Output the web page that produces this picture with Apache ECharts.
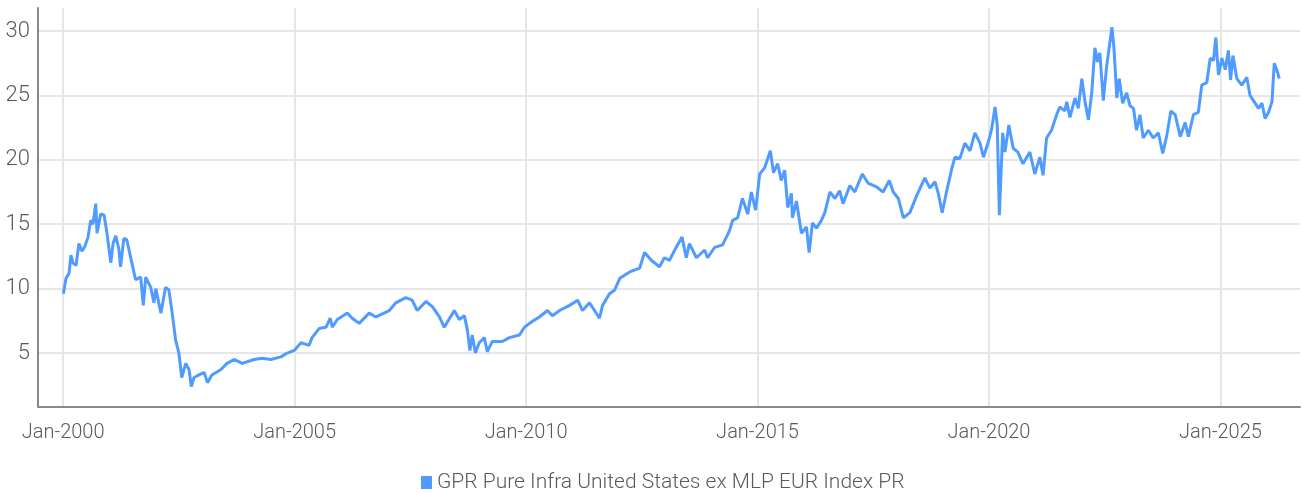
<!DOCTYPE html>
<html><head><meta charset="utf-8">
<script src="https://cdn.jsdelivr.net/npm/echarts@6/dist/echarts.min.js"></script>
<style>html,body{margin:0;padding:0;background:#fff}#c{width:1302px;height:493px}</style>
</head><body><div id="c"></div>
<script>
const seriesName = 'GPR Pure Infra United States ex MLP EUR Index PR';
const dates = [
'2000-01-03','2000-01-24','2000-02-17','2000-03-03','2000-03-19','2000-04-12','2000-05-05','2000-05-29','2000-06-22','2000-07-16',
'2000-08-06','2000-08-24','2000-09-15','2000-09-25','2000-10-24','2000-11-20','2000-12-13','2001-01-12','2001-01-30','2001-02-20',
'2001-03-16','2001-03-30','2001-04-25','2001-05-18','2001-06-27','2001-07-26','2001-09-05','2001-09-25','2001-10-14','2001-11-23',
'2001-12-18','2002-01-02','2002-02-11','2002-03-20','2002-04-15','2002-05-11','2002-06-07','2002-07-03','2002-07-25','2002-08-26',
'2002-09-21','2002-10-09','2002-10-30','2002-12-09','2003-01-18','2003-02-13','2003-03-20','2003-05-28','2003-07-17','2003-09-11',
'2003-11-14','2004-02-17','2004-04-19','2004-06-27','2004-09-15','2004-11-04','2004-12-29','2005-02-21','2005-04-26','2005-05-19',
'2005-07-13','2005-09-05','2005-10-09','2005-10-25','2005-12-04','2006-02-21','2006-03-31','2006-05-25','2006-08-12','2006-10-04',
'2007-01-18','2007-03-10','2007-05-28','2007-07-17','2007-08-26','2007-11-03','2007-12-23','2008-02-17','2008-03-26','2008-06-14',
'2008-07-23','2008-09-01','2008-09-25','2008-10-15','2008-11-03','2008-11-27','2008-12-28','2009-02-06','2009-03-01','2009-04-10',
'2009-06-28','2009-08-22','2009-11-10','2009-12-19','2010-02-11','2010-04-16','2010-06-19','2010-07-28','2010-09-22','2010-12-10',
'2011-02-12','2011-03-22','2011-05-16','2011-06-25','2011-08-03','2011-08-27','2011-10-21','2011-12-01','2012-01-10','2012-03-28',
'2012-06-15','2012-07-24','2012-09-15','2012-11-19','2012-12-28','2013-02-06','2013-03-30','2013-05-16','2013-06-18','2013-07-13',
'2013-09-06','2013-11-10','2013-12-03','2014-01-28','2014-04-01','2014-05-25','2014-06-18','2014-07-28','2014-09-04','2014-10-16',
'2014-11-13','2014-12-17','2015-01-18','2015-02-27','2015-04-12','2015-05-07','2015-06-09','2015-07-07','2015-08-03','2015-08-27',
'2015-09-25','2015-10-03','2015-11-04','2015-12-13','2016-01-22','2016-02-12','2016-03-09','2016-04-10','2016-05-19','2016-06-15',
'2016-07-25','2016-09-03','2016-10-10','2016-11-06','2016-12-30','2017-02-07','2017-04-07','2017-05-22','2017-07-28','2017-09-18',
'2017-11-06','2017-12-07','2018-01-16','2018-02-25','2018-04-17','2018-06-09','2018-08-13','2018-09-22','2018-11-01','2018-11-27',
'2018-12-28','2019-02-02','2019-03-13','2019-04-07','2019-05-16','2019-06-25','2019-08-04','2019-09-12','2019-10-22','2019-11-18',
'2019-12-27','2020-01-22','2020-02-18','2020-03-06','2020-03-23','2020-04-18','2020-05-06','2020-06-06','2020-07-10','2020-08-16',
'2020-09-25','2020-11-19','2020-12-28','2021-02-06','2021-03-03','2021-03-31','2021-05-09','2021-06-18','2021-07-13','2021-08-22',
'2021-09-06','2021-10-01','2021-11-10','2021-12-06','2022-01-03','2022-01-28','2022-02-24','2022-03-22','2022-04-16','2022-05-07',
'2022-05-25','2022-06-21','2022-07-18','2022-08-28','2022-09-13','2022-10-06','2022-10-25','2022-11-21','2022-12-22','2023-01-18',
'2023-02-14','2023-03-10','2023-04-06','2023-05-02','2023-06-11','2023-07-20','2023-08-29','2023-10-03','2023-11-04','2023-12-06',
'2024-01-09','2024-02-18','2024-03-28','2024-04-22','2024-06-01','2024-07-10','2024-08-06','2024-09-15','2024-10-12','2024-11-07',
'2024-11-25','2024-12-16','2025-01-12','2025-02-08','2025-03-04','2025-03-22','2025-04-09','2025-05-10','2025-06-18','2025-07-28',
'2025-08-22','2025-09-18','2025-10-28','2025-11-24','2025-12-19','2026-01-15','2026-02-11','2026-03-01','2026-03-21','2026-04-10'
];
const values = [
9.6,10.8,11.2,12.6,12.0,11.8,13.5,12.9,13.3,14.0,
15.3,15.0,16.6,14.3,15.8,15.7,14.3,12.0,13.5,14.1,
13.1,11.7,13.9,13.8,12.0,10.7,10.9,8.7,10.9,10.1,
8.9,10.0,8.1,10.1,9.9,8.1,6.0,5.0,3.1,4.2,
3.7,2.4,3.1,3.3,3.5,2.7,3.3,3.7,4.2,4.5,
4.2,4.5,4.6,4.5,4.7,5.0,5.2,5.8,5.6,6.2,
6.9,7.0,7.7,7.0,7.6,8.1,7.7,7.3,8.1,7.8,
8.3,8.9,9.3,9.1,8.3,9.0,8.6,7.8,7.0,8.3,
7.6,7.9,6.8,5.2,6.4,5.0,5.8,6.2,5.1,5.9,
5.9,6.2,6.4,7.0,7.4,7.8,8.3,7.9,8.3,8.7,
9.1,8.3,8.9,8.3,7.7,8.7,9.6,9.9,10.8,11.3,
11.6,12.8,12.2,11.7,12.4,12.2,13.2,14.0,12.4,13.5,
12.4,13.0,12.4,13.2,13.4,14.5,15.3,15.5,17.0,15.8,
17.5,16.1,18.9,19.4,20.7,19.0,19.7,18.4,19.2,16.3,
17.4,15.5,16.8,14.3,14.8,12.8,15.1,14.7,15.3,15.9,
17.5,17.0,17.6,16.6,18.0,17.5,18.9,18.2,17.9,17.5,
18.4,17.5,17.0,15.5,15.9,17.2,18.6,17.8,18.3,17.4,
15.9,17.6,19.3,20.2,20.1,21.3,20.7,22.1,21.3,20.2,
21.4,22.4,24.1,22.7,15.7,22.1,20.6,22.7,20.9,20.6,
19.7,20.6,18.9,20.2,18.8,21.7,22.3,23.5,24.1,23.8,
24.5,23.3,24.8,24.0,26.3,24.5,23.1,25.2,28.7,27.6,
28.3,24.6,27.3,30.3,28.7,24.8,26.3,24.4,25.2,24.2,
24.0,22.3,23.5,21.7,22.3,21.7,22.1,20.5,21.9,23.8,
23.5,21.8,22.9,21.8,23.5,23.7,25.8,26.0,27.9,27.7,
29.5,26.6,27.9,27.0,28.5,26.2,28.1,26.3,25.8,26.4,
25.0,24.6,24.0,24.4,23.2,23.7,24.5,27.5,27.0,26.3
];
const xTickDates = ['2000-01-01','2005-01-01','2010-01-01','2015-01-01','2020-01-01','2025-01-01'];
const yTicks = [5,10,15,20,25,30];
const xRange = ['1999-06-17','2026-09-20'];

// convert a date string to a decimal year for a linear value axis
function toYear(s){
  const d = new Date(s + 'T00:00:00Z');
  const y = d.getUTCFullYear();
  const a = Date.UTC(y,0,1), b = Date.UTC(y+1,0,1);
  return y + (d - a) / (b - a);
}

const FONT = 'Roboto, sans-serif';
const chart = echarts.init(document.getElementById('c'), null, {renderer:'canvas'});
const xTickVals = xTickDates.map(toYear);
chart.setOption({
  animation:false,
  grid:{left:38,right:2,top:8,bottom:86,containLabel:false},
  legend:{
    left:416, top:467, itemWidth:11, itemHeight:13, itemGap:6,
    icon:'rect',
    textStyle:{fontFamily:FONT,fontSize:21,color:'#5a5a5a',fontWeight:300},
    data:[seriesName]
  },
  xAxis:{
    type:'value', min:toYear(xRange[0]), max:toYear(xRange[1]),
    axisLine:{show:true,lineStyle:{color:'#888',width:2}},
    axisTick:{show:false, customValues:xTickVals},
    axisLabel:{customValues:xTickVals, margin:16, color:'#5a5a5a', fontFamily:FONT, fontSize:20, fontWeight:300,
      formatter:v=>'Jan-'+Math.round(v)},
    splitLine:{show:true,lineStyle:{color:'#e6e6e6',width:2}}
  },
  yAxis:{
    type:'value', min:0.81, max:31.79,
    axisLine:{show:true,lineStyle:{color:'#888',width:2}},
    axisTick:{show:false, customValues:yTicks},
    axisLabel:{customValues:yTicks, margin:8, color:'#5a5a5a', fontFamily:FONT, fontSize:22, fontWeight:300},
    splitLine:{show:true,lineStyle:{color:'#e6e6e6',width:2}}
  },
  series:[{
    name:seriesName, type:'line', showSymbol:false, symbol:'none',
    data:dates.map((d,i)=>[toYear(d),values[i]]),
    lineStyle:{color:'#4f9bff',width:3},
    itemStyle:{color:'#4f9bff'}
  }]
});
</script></body></html>
